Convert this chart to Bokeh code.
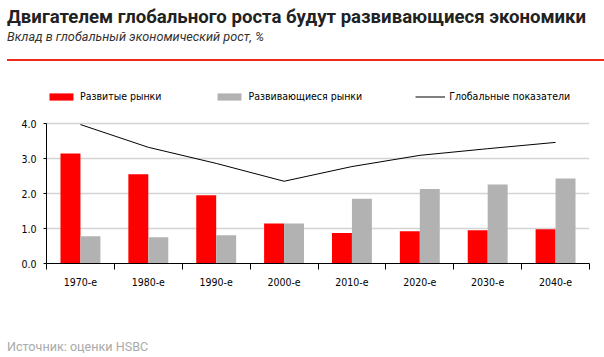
from bokeh.plotting import figure
from bokeh.models import FixedTicker, Legend, LegendItem, ColumnDataSource, Div
from bokeh.layouts import column
from bokeh.embed import file_html
from bokeh.resources import INLINE
import numpy as np

categories = ["1970-е", "1980-е", "1990-е", "2000-е", "2010-е", "2020-е", "2030-е", "2040-е"]
developed = [3.14, 2.55, 1.95, 1.14, 0.87, 0.92, 0.95, 0.98]
emerging = [0.78, 0.75, 0.81, 1.14, 1.85, 2.13, 2.26, 2.43]
global_growth = [3.97, 3.32, 2.86, 2.35, 2.77, 3.09, 3.28, 3.46]
y_ticks = [0, 1, 2, 3, 4]

TITLE = "Двигателем глобального роста будут развивающиеся экономики"
SUBTITLE = "Вклад в глобальный экономический рост, %"
SOURCE = "Источник: оценки HSBC"

FONT = "DejaVu Sans Condensed"
W = 604
HEAD_H = 64
FIG_H = 266
FOOT_H = 357 - HEAD_H - FIG_H

# canvas geometry of the plotting area (value axis 0..4)
FRAME_TOP = 84      # frame extends above 4.0 to hold the legend
AXIS_TOP = 123      # y of value 4.0
AXIS_BOTTOM = 263   # y of value 0.0
px_per_unit = (AXIS_BOTTOM - AXIS_TOP) / (y_ticks[-1] - y_ticks[0])
y_end = y_ticks[-1] + (AXIS_TOP - FRAME_TOP) / px_per_unit

header = Div(width=W, height=HEAD_H, margin=(0, 0, 0, 0), text=(
    '<div style="position:relative;width:604px;height:64px;">'
    '<div style="position:absolute;left:7px;top:5px;font-family:Roboto;font-weight:bold;'
    f'font-size:18.6px;color:#222;white-space:nowrap;line-height:24px;">{TITLE}</div>'
    '<div style="position:absolute;left:7px;top:28px;font-family:Roboto;font-style:italic;'
    f'font-size:12.7px;color:#333;white-space:nowrap;line-height:18px;">{SUBTITLE}</div>'
    '<div style="position:absolute;left:7px;top:59px;width:597px;height:2px;background:#ee2a1b;"></div>'
    '</div>'))

footer = Div(width=W, height=FOOT_H, margin=(0, 0, 0, 0), text=(
    f'<div style="padding-top:9px;padding-left:7px;font-family:Roboto;font-size:12.6px;'
    f'color:#aaaaaa;white-space:nowrap;line-height:16px;">{SOURCE}</div>'))

centers = np.arange(len(categories)) + 0.5
bw = 0.294
src = ColumnDataSource(dict(
    xd=centers - bw / 2, xe=centers + bw / 2, xc=centers,
    dev=developed, emg=emerging, glob=global_growth))

p = figure(width=W, height=FIG_H, output_backend="svg", toolbar_location=None,
           x_range=(0, len(categories)), y_range=(0, y_end), margin=(0, 0, 0, 0))
p.min_border_left = 46
p.min_border_right = 15
p.min_border_top = FRAME_TOP - HEAD_H
p.min_border_bottom = HEAD_H + FIG_H - AXIS_BOTTOM
p.outline_line_color = None
p.background_fill_color = "white"

r1 = p.vbar(x="xd", top="dev", width=bw, source=src, fill_color="#ff0000", line_color=None)
r2 = p.vbar(x="xe", top="emg", width=bw, source=src, fill_color="#b2b2b2", line_color=None)
r3 = p.line(x="xc", y="glob", source=src, line_color="black", line_width=1)

# x axis
p.xaxis.ticker = FixedTicker(ticks=list(centers), minor_ticks=list(range(len(categories) + 1)))
p.xaxis.major_label_overrides = {float(c): lab for c, lab in zip(centers, categories)}
p.xaxis.major_tick_line_color = None
p.xaxis.minor_tick_line_color = "black"
p.xaxis.minor_tick_out = 6
p.xaxis.minor_tick_in = 0
p.xaxis.axis_line_color = "black"
p.xaxis.major_label_text_font = FONT
p.xaxis.major_label_text_font_size = "10.5px"
p.xaxis.major_label_text_color = "black"
p.xaxis.major_label_standoff = 6
p.xgrid.grid_line_color = None

# y axis
p.yaxis.ticker = FixedTicker(ticks=y_ticks)
p.yaxis.bounds = (y_ticks[0], y_ticks[-1])
p.yaxis.major_label_overrides = {t: f"{t:.1f}" for t in y_ticks}
p.yaxis.major_tick_out = 3
p.yaxis.major_tick_in = 0
p.yaxis.minor_tick_line_color = None
p.yaxis.axis_line_color = "black"
p.yaxis.major_label_text_font = FONT
p.yaxis.major_label_text_font_size = "10.5px"
p.yaxis.major_label_text_color = "black"
p.yaxis.major_label_standoff = 7
p.ygrid.grid_line_color = "#d4d4d4"
p.ygrid.grid_line_width = 1.5

legend = Legend(items=[
    LegendItem(label="Развитые рынки", renderers=[r1]),
    LegendItem(label="Развивающиеся рынки", renderers=[r2]),
    LegendItem(label="Глобальные показатели", renderers=[r3]),
], orientation="horizontal", location=(0, AXIS_BOTTOM - 102), spacing=53,
    glyph_width=30, glyph_height=9, label_standoff=4, padding=2, margin=0,
    border_line_color=None, background_fill_alpha=0,
    label_text_font=FONT, label_text_font_size="10.5px", label_text_color="black")
p.add_layout(legend, "center")

layout = column(header, p, footer, spacing=0, margin=(0, 0, 0, 0))
open("out.html", "w").write(file_html(layout, INLINE))
